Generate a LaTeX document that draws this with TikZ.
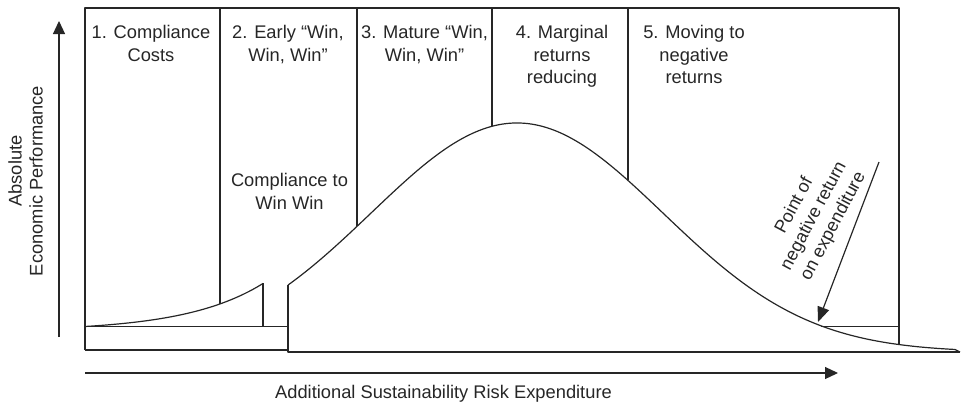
\documentclass[tikz,border=0pt]{standalone}
\usepackage{fontspec}
\setmainfont{Liberation Sans}
\usetikzlibrary{arrows.meta}
\begin{document}
\begin{tikzpicture}[x=1pt,y=-1pt,line width=1.2pt,
  declare function={bell(\t)=352-229*exp(-0.5*((\t-517)/146)^2);
                    lcurve(\t)=326.5-4.72*(exp(0.013*(\t-85))-1);},
  ln/.style={draw=black!85, line join=round},
  lab/.style={font=\fontsize{18.3}{22.5}\selectfont, align=center, inner sep=0pt, text=black!85},
  axarrow/.style={ln, -{Triangle[length=13pt,width=12pt]}}]
\useasboundingbox (0,0) rectangle (964,410);
% frame
\draw[ln] (85,350) -- (85,8) -- (899,8) -- (899,{bell(899)});
\draw[ln] (85,350) -- (288,350);
\draw[ln] (85,326.5) -- (288,326.5);
\draw[ln] (263,{lcurve(263)}) -- (263,326.5);
\draw[ln] (288,{bell(288)}) -- (288,352) -- (960,352);
% curves
\draw[ln] plot[domain=85:263, samples=40, smooth] (\x,{lcurve(\x)});
\draw[ln] plot[domain=288:955, samples=120, smooth] (\x,{bell(\x)}) -- (960,352);
\draw[ln] (821,326.5) -- (899,326.5);
% dividers
\draw[ln] (220,8) -- (220,{lcurve(220)});
\draw[ln] (357,8) -- (357,{bell(357)});
\draw[ln] (492,8) -- (492,{bell(492)});
\draw[ln] (628,8) -- (628,{bell(628)});
% headers
\node[lab, anchor=north] (t1) at (151,25) {1. Compliance\\Costs};
\node[lab, anchor=north] (t2) at (288,25) {2. Early “Win,\\Win, Win”};
\node[lab, anchor=north] (t3) at (424.5,25) {3. Mature “Win,\\Win, Win”};
\node[lab, anchor=north] (t4) at (562,25) {4. Marginal\\returns\\reducing};
\node[lab, anchor=north] (t5) at (694,25) {5. Moving to\\negative\\returns};
\node[lab, anchor=north] (tc) at (289.5,173) {Compliance to\\Win Win};
% axes
\coordinate (yS) at (59,337);
\coordinate (yE) at (59,21);
\coordinate (xS) at (85,373);
\coordinate (xE) at (838,373);
\draw[axarrow] (yS) -- (yE);
\draw[axarrow] (xS) -- (xE);
\node[lab, rotate=90] (ylab1) at (15,171) {Absolute};
\node[lab, rotate=90] (ylab2) at (36,181) {Economic Performance};
\node[lab, anchor=base] (xlab) at (443.5,398) {Additional Sustainability Risk Expenditure};
% point of negative return
\node[lab, rotate=62, font=\fontsize{18}{22}\selectfont] (neg) at (814,216) {Point of\\negative return\\on expenditure};
\coordinate (nS) at (879,162);
\coordinate (nE) at (818,322);
\draw[ln, -{Triangle[length=15pt,width=12pt]}] (nS) -- (nE);
\end{tikzpicture}
\end{document}
